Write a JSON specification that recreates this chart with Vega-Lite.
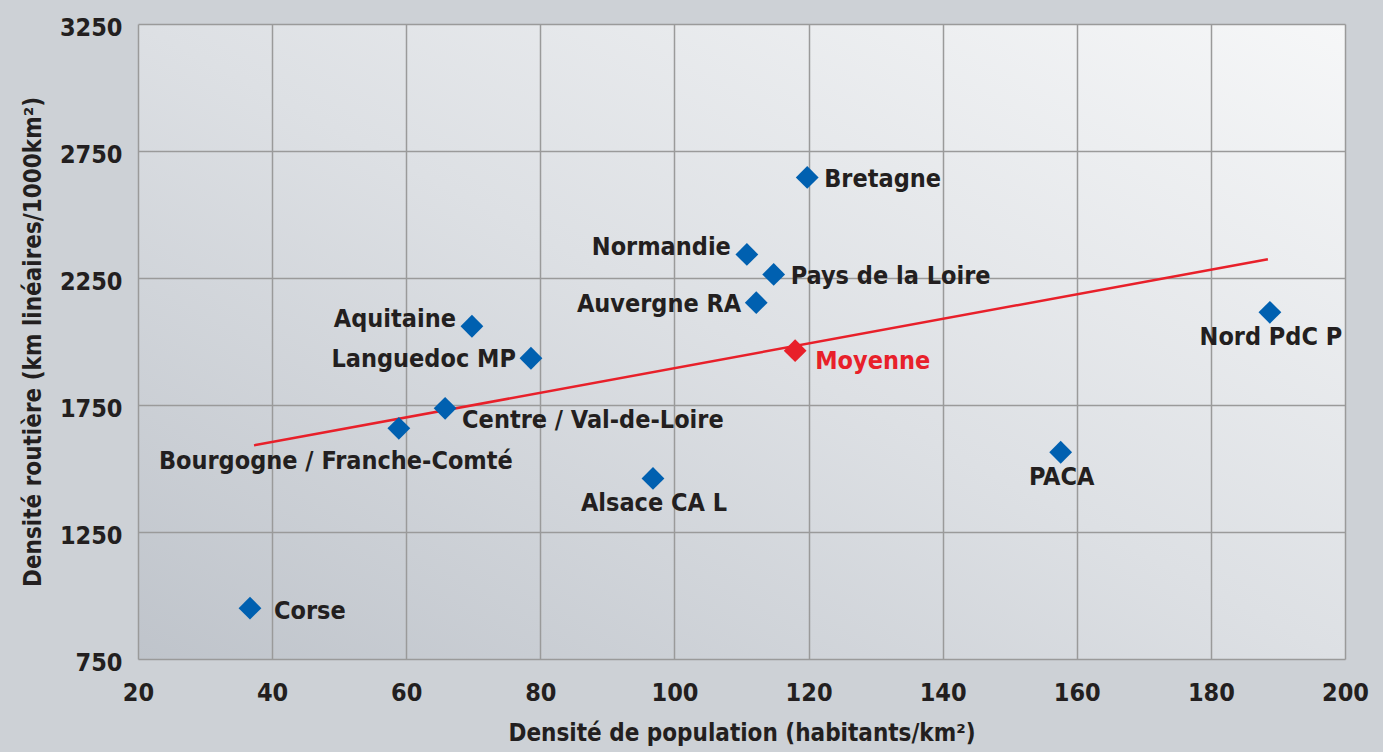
{
  "$schema": "https://vega.github.io/schema/vega-lite/v6.json",
  "width": 1207,
  "height": 635,
  "autosize": {"type": "none"},
  "padding": {"left": 138, "top": 24, "right": 38, "bottom": 93},
  "background": "#cdd1d6",
  "config": {
    "view": {"stroke": null, "fill": {"gradient": "linear", "x1": 0, "y1": 1, "x2": 1, "y2": 0,
      "stops": [{"offset": 0, "color": "#bfc4cb"}, {"offset": 0.5, "color": "#dde0e4"}, {"offset": 1, "color": "#f6f7f8"}]}},
    "font": "DejaVu Sans Condensed, sans-serif",
    "axis": {
      "grid": true, "gridColor": "#9a9a9a", "gridWidth": 1.5,
      "domain": false, "ticks": false,
      "labelFont": "DejaVu Sans Condensed, sans-serif",
      "labelFontSize": 25, "labelFontWeight": "bold", "labelColor": "#231f20",
      "titleFont": "DejaVu Sans Condensed, sans-serif",
      "titleFontSize": 24, "titleFontWeight": "bold", "titleColor": "#231f20"
    }
  },
  "datasets": {
    "regions": [
      {"region": "Corse", "pop": 36.7, "route": 950},
      {"region": "Bourgogne / Franche-Comté", "pop": 58.9, "route": 1658},
      {"region": "Centre / Val-de-Loire", "pop": 65.8, "route": 1737},
      {"region": "Aquitaine", "pop": 69.8, "route": 2060},
      {"region": "Languedoc MP", "pop": 78.6, "route": 1934},
      {"region": "Alsace CA L", "pop": 96.8, "route": 1461},
      {"region": "Normandie", "pop": 110.8, "route": 2343},
      {"region": "Pays de la Loire", "pop": 114.8, "route": 2264},
      {"region": "Auvergne RA", "pop": 112.2, "route": 2153},
      {"region": "Bretagne", "pop": 119.8, "route": 2646},
      {"region": "PACA", "pop": 157.6, "route": 1564},
      {"region": "Nord PdC P", "pop": 188.8, "route": 2115}
    ],
    "moyenne": [
      {"region": "Moyenne", "pop": 118.0, "route": 1964}
    ],
    "trend": [
      {"pop": 37.3, "route": 1591},
      {"pop": 188.5, "route": 2324}
    ]
  },
  "layer": [
    {
      "data": {"name": "trend"},
      "mark": {"type": "line", "color": "#e8202a", "strokeWidth": 2.5},
      "encoding": {
        "x": {"field": "pop", "type": "quantitative",
          "scale": {"domain": [20, 200], "nice": false, "zero": false},
          "axis": {"values": [20, 40, 60, 80, 100, 120, 140, 160, 180, 200], "format": "d", "labelFlush": false, "labelPadding": 21, "titlePadding": 16,
            "title": "Densité de population (habitants/km²)"}},
        "y": {"field": "route", "type": "quantitative",
          "scale": {"domain": [750, 3250], "nice": false, "zero": false},
          "axis": {"values": [750, 1250, 1750, 2250, 2750, 3250], "format": "d", "labelFlush": false, "labelPadding": 16, "titlePadding": 14,
            "labelBaseline": "middle", "labelOffset": 3, "titleFontSize": 24,
            "title": "Densité routière (km linéaires/1000km²)"}}
      }
    },
    {
      "data": {"name": "regions"},
      "mark": {"type": "point", "shape": "diamond", "filled": true, "size": 520, "color": "#0060b0", "opacity": 1},
      "encoding": {
        "x": {"field": "pop", "type": "quantitative"},
        "y": {"field": "route", "type": "quantitative"}
      }
    },
    {
      "data": {"name": "moyenne"},
      "mark": {"type": "point", "shape": "diamond", "filled": true, "size": 520, "color": "#e8202a", "opacity": 1},
      "encoding": {
        "x": {"field": "pop", "type": "quantitative"},
        "y": {"field": "route", "type": "quantitative"}
      }
    },
    {
      "data": {"name": "regions"},
      "transform": [{"filter": {"field": "region", "oneOf": ["Bretagne", "Pays de la Loire"]}}],
      "mark": {"type": "text", "align": "left", "baseline": "middle", "dx": 17, "dy": 2, "fontSize": 25, "fontWeight": "bold", "color": "#231f20"},
      "encoding": {
        "x": {"field": "pop", "type": "quantitative"},
        "y": {"field": "route", "type": "quantitative"},
        "text": {"field": "region"}
      }
    },
    {
      "data": {"name": "regions"},
      "transform": [{"filter": {"field": "region", "oneOf": ["Corse"]}}],
      "mark": {"type": "text", "align": "left", "baseline": "middle", "dx": 24, "dy": 3, "fontSize": 25, "fontWeight": "bold", "color": "#231f20"},
      "encoding": {
        "x": {"field": "pop", "type": "quantitative"},
        "y": {"field": "route", "type": "quantitative"},
        "text": {"field": "region"}
      }
    },
    {
      "data": {"name": "regions"},
      "transform": [{"filter": {"field": "region", "oneOf": ["Centre / Val-de-Loire"]}}],
      "mark": {"type": "text", "align": "left", "baseline": "middle", "dx": 17, "dy": 12, "fontSize": 25, "fontWeight": "bold", "color": "#231f20"},
      "encoding": {
        "x": {"field": "pop", "type": "quantitative"},
        "y": {"field": "route", "type": "quantitative"},
        "text": {"field": "region"}
      }
    },
    {
      "data": {"name": "moyenne"},
      "mark": {"type": "text", "align": "left", "baseline": "middle", "dx": 20, "dy": 10, "fontSize": 25, "fontWeight": "bold", "color": "#e8202a"},
      "encoding": {
        "x": {"field": "pop", "type": "quantitative"},
        "y": {"field": "route", "type": "quantitative"},
        "text": {"field": "region"}
      }
    },
    {
      "data": {"name": "regions"},
      "transform": [{"filter": {"field": "region", "oneOf": ["Auvergne RA", "Languedoc MP"]}}],
      "mark": {"type": "text", "align": "right", "baseline": "middle", "dx": -15, "dy": 1, "fontSize": 25, "fontWeight": "bold", "color": "#231f20"},
      "encoding": {
        "x": {"field": "pop", "type": "quantitative"},
        "y": {"field": "route", "type": "quantitative"},
        "text": {"field": "region"}
      }
    },
    {
      "data": {"name": "regions"},
      "transform": [{"filter": {"field": "region", "oneOf": ["Normandie", "Aquitaine"]}}],
      "mark": {"type": "text", "align": "right", "baseline": "middle", "dx": -16, "dy": -7, "fontSize": 25, "fontWeight": "bold", "color": "#231f20"},
      "encoding": {
        "x": {"field": "pop", "type": "quantitative"},
        "y": {"field": "route", "type": "quantitative"},
        "text": {"field": "region"}
      }
    },
    {
      "data": {"name": "regions"},
      "transform": [{"filter": {"field": "region", "oneOf": ["Alsace CA L", "Nord PdC P", "PACA"]}}],
      "mark": {"type": "text", "align": "center", "baseline": "middle", "dx": 1, "dy": 25, "fontSize": 25, "fontWeight": "bold", "color": "#231f20"},
      "encoding": {
        "x": {"field": "pop", "type": "quantitative"},
        "y": {"field": "route", "type": "quantitative"},
        "text": {"field": "region"}
      }
    },
    {
      "data": {"name": "regions"},
      "transform": [{"filter": {"field": "region", "oneOf": ["Bourgogne / Franche-Comté"]}}],
      "mark": {"type": "text", "align": "center", "baseline": "middle", "dx": -63, "dy": 33, "fontSize": 25, "fontWeight": "bold", "color": "#231f20"},
      "encoding": {
        "x": {"field": "pop", "type": "quantitative"},
        "y": {"field": "route", "type": "quantitative"},
        "text": {"field": "region"}
      }
    }
  ]
}
